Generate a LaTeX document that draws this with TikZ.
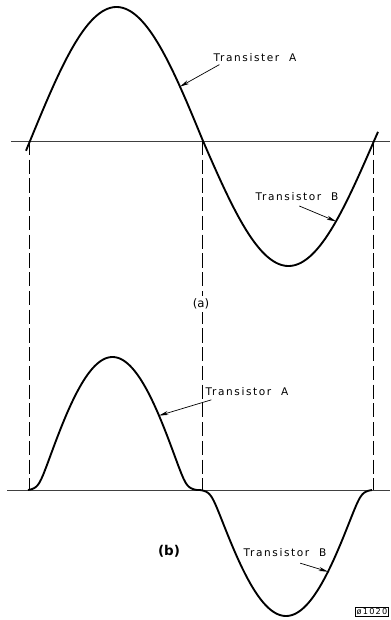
\documentclass[tikz,border=0pt]{standalone}
\usepackage{fontspec}
\setmainfont{DejaVu Sans}
\newfontfamily\lettering[LetterSpace=15]{DejaVu Sans}
\usetikzlibrary{arrows.meta}

\begin{document}
\begin{tikzpicture}[x=0.03cm, y=-0.03cm, >={Stealth[length=8pt,width=3.5pt]},
  font=\lettering\fontsize{9}{10}\selectfont,
  wave/.style={line width=1.6pt, line join=round},
  axis/.style={line width=0.6pt, black!75},
  drop/.style={line width=0.8pt, dash pattern=on 12pt off 4pt},
  lead/.style={->, line width=0.6pt},
  lbl/.style={inner sep=1pt},
  declare function={knee(\u)=((\u-0.2)+sqrt((\u-0.2)^2+0.01))/2;
    xover(\u)=(knee(\u)-knee(0))/(knee(1)-knee(0));}]
  \useasboundingbox (0,0) rectangle (390,620);

  % (a) input sine
  \coordinate (ta0) at (11,141);
  \coordinate (ta1) at (390,141);
  \draw[axis] (ta0) -- (ta1);
  \draw[wave] plot[domain=26:203, samples=90] (\x,{141-134*sin((\x-30)/173*180)})
    -- plot[domain=203:378, samples=90] (\x,{141+125*sin((\x-203)/171*180)});

  % (b) output with crossover
  \coordinate (ba0) at (7,490);
  \coordinate (ba1) at (390,490);
  \draw[axis] (ba0) -- (ba1);
  \draw[wave] plot[domain=28:197, samples=90] (\x,{490-133*xover(sin((\x-28)/169*180))})
    -- plot[domain=200:372, samples=90] (\x,{490+126*xover(sin((\x-200)/172*180))});

  % drop lines
  \coordinate (u1) at (29,141);  \coordinate (d1) at (29,490);
  \coordinate (u2) at (202,141); \coordinate (d2) at (202,490);
  \coordinate (u3) at (373,141); \coordinate (d3) at (373,490);
  \draw[drop] (u1) -- (d1);
  \draw[drop] (u2) -- (d2);
  \draw[drop] (u3) -- (d3);

  % labels
  \node[lbl] (labTA) at (255,58) {Transister\ \ A};
  \coordinate (onTA) at (180,{141-134*sin((180-30)/173*180)});
  \draw[lead] ([xshift=6pt,yshift=-1pt]labTA.south west) -- (onTA);

  \node[lbl] (labTB) at (297,197) {Transistor\ \ B};
  \coordinate (onTB) at (336,{141+125*sin((336-203)/171*180)});
  \draw[lead] ([xshift=2pt,yshift=-3pt]labTB.south) -- (onTB);

  \node[lbl, fill=white, inner sep=2pt, font=\rmfamily\fontsize{10}{11}\selectfont] (capa) at (201,304) {(a)};

  \node[lbl] (labBA) at (247,392) {Transistor\ \ A};
  \coordinate (onBA) at (159,{490-133*xover(sin((159-28)/169*180))});
  \draw[lead] ([xshift=6pt,yshift=-2pt]labBA.south west) -- (onBA);

  \node[lbl] (labBB) at (285,553) {Transistor\ \ B};
  \coordinate (onBB) at (328,{490+126*xover(sin((328-200)/172*180))});
  \draw[lead] ([xshift=13pt,yshift=-4pt]labBB.south) -- (onBB);

  \node[lbl, font=\rmfamily\bfseries\fontsize{11.5}{12}\selectfont] (capb) at (169,551) {(b)};

  \node[draw, line width=0.6pt, inner sep=1pt, font=\lettering\fontsize{7}{8}\selectfont] (tag) at (372,612) {ø1020};
\end{tikzpicture}
\end{document}
